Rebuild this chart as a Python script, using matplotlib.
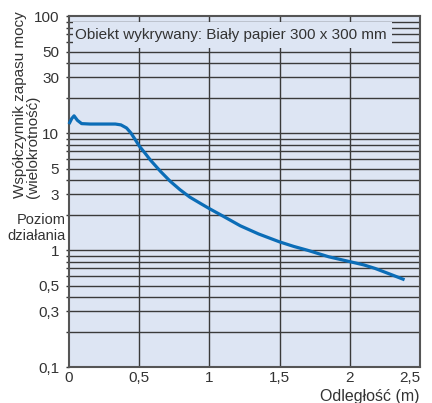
import matplotlib
matplotlib.use("Agg")
import matplotlib.pyplot as plt
from matplotlib.patches import Rectangle
from matplotlib.ticker import FixedLocator, NullFormatter

plt.rcParams['font.family'] = ['Liberation Sans', 'DejaVu Sans']

# Data
distance_m = [0.0, 0.02, 0.036, 0.06, 0.09, 0.15, 0.25, 0.33, 0.37, 0.41, 0.44,
              0.47, 0.50, 0.54, 0.58, 0.65, 0.72, 0.79, 0.86, 0.94, 1.0, 1.1, 1.22,
              1.35, 1.50, 1.60, 1.70, 1.85, 2.0, 2.10, 2.18, 2.28, 2.39]
margin_factor = [12.0, 13.4, 14.1, 12.9, 12.1, 12.0, 12.0, 12.0, 11.8, 11.1, 10.1,
                 8.9, 7.8, 6.8, 5.9, 4.75, 3.9, 3.3, 2.85, 2.5, 2.27, 1.95, 1.62,
                 1.38, 1.18, 1.08, 1.0, 0.88, 0.80, 0.75, 0.70, 0.63, 0.56]

x_ticks = [0, 0.5, 1, 1.5, 2, 2.5]
x_tick_labels = ['0', '0,5', '1', '1,5', '2', '2,5']
y_ticks = [0.1, 0.3, 0.5, 1, 3, 5, 10, 30, 50, 100]
y_tick_labels = ['0,1', '0,3', '0,5', '1', '3', '5', '10', '30', '50', '100']
y_grid = [0.2, 0.3, 0.4, 0.5, 0.6, 0.7, 0.8, 0.9, 1, 2, 3, 4, 5, 6, 7, 8, 9,
          10, 20, 30, 40, 50, 60, 70, 80, 90]

title_text = 'Obiekt wykrywany: Biały papier 300 x 300 mm'
ylabel_line1 = 'Współczynnik zapasu mocy'
ylabel_line2 = '(wielokrotność)'
level_text = 'Poziom\ndziałania'
xlabel_text = 'Odległość (m)'

bg = '#dde5f3'
grid_c = '#3a3a3a'
line_c = '#0b6db7'
text_c = '#333333'

fig = plt.figure(figsize=(4.32, 4.03), dpi=100)
ax = fig.add_axes([69/432, 1 - 367.3/403, 351/432, 351/403])
ax.set_facecolor(bg)
ax.set_yscale('log')
ax.set_xlim(0, 2.5)
ax.set_ylim(0.1, 100)
ax.set_axisbelow(True)

for g in y_grid:
    ax.axhline(g, color=grid_c, lw=1.0, zorder=0.5)
for xv in x_ticks[1:-1]:
    ax.axvline(xv, color=grid_c, lw=1.0, zorder=0.5)

ax.yaxis.set_major_locator(FixedLocator(y_ticks))
ax.yaxis.set_minor_locator(FixedLocator(y_grid))
ax.yaxis.set_minor_formatter(NullFormatter())
ax.set_yticklabels(y_tick_labels)
ax.set_xticks(x_ticks)
ax.set_xticklabels(x_tick_labels)
ax.get_xticklabels()[-1].set_ha('right')
ax.tick_params(axis='x', labelsize=11, length=0, pad=3, colors=text_c)
ax.tick_params(axis='y', which='both', labelsize=11, length=2, width=1,
               direction='out', pad=5, colors=text_c)

for s in ax.spines.values():
    s.set_color('#555555')
    s.set_linewidth(1.5)

# Label box over the grid
ax.add_patch(Rectangle((0.011, 0.9097), 0.909, 0.0741, transform=ax.transAxes,
                       facecolor=bg, edgecolor='none', zorder=2))
ax.text(0.4615, 0.9467, title_text, transform=ax.transAxes, ha='center',
        va='center', fontsize=11, color=text_c, zorder=3)

ax.plot(distance_m, margin_factor, color=line_c, lw=2.3, zorder=4,
        solid_capstyle='butt', solid_joinstyle='round', clip_on=False)

fig.text(20/432, 1 - 198/403, ylabel_line1, rotation=90, ha='center', va='bottom',
         fontsize=11, color=text_c)
fig.text(33/432, 1 - 198/403, ylabel_line2, rotation=90, ha='center', va='bottom',
         fontsize=11, color=text_c)
fig.text(66/432, 1 - 228/403, level_text, ha='right', va='center',
         multialignment='right', fontsize=10.5, color=text_c, linespacing=1.1)
fig.text(420/432, 1 - 396/403, xlabel_text, ha='right', va='center',
         fontsize=11.5, color=text_c)

fig.savefig('out.png', dpi=100, facecolor='white')
